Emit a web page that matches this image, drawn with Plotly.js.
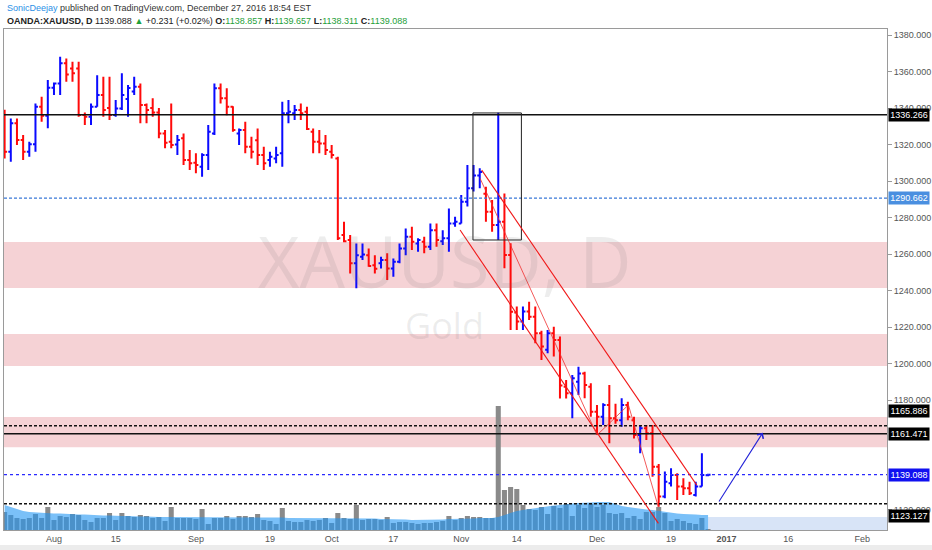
<!DOCTYPE html>
<html>
<head>
<meta charset="utf-8">
<script src="https://cdn.plot.ly/plotly-3.0.1.min.js"></script>
<style>
html,body{margin:0;padding:0;background:#fff;}
#chart{width:932px;height:550px;}
</style>
</head>
<body>
<div id="chart"></div>
<script>
// ---- Data ----
var dates = [
'2016-07-20','2016-07-21','2016-07-22','2016-07-25','2016-07-26','2016-07-27','2016-07-28','2016-07-29',
'2016-08-01','2016-08-02','2016-08-03','2016-08-04','2016-08-05','2016-08-08','2016-08-09','2016-08-10','2016-08-11','2016-08-12',
'2016-08-15','2016-08-16','2016-08-17','2016-08-18','2016-08-19','2016-08-22','2016-08-23','2016-08-24','2016-08-25','2016-08-26',
'2016-08-29','2016-08-30','2016-08-31',
'2016-09-01','2016-09-02','2016-09-05','2016-09-06','2016-09-07','2016-09-08','2016-09-09','2016-09-12','2016-09-13','2016-09-14',
'2016-09-15','2016-09-16','2016-09-19','2016-09-20','2016-09-21','2016-09-22','2016-09-23','2016-09-26','2016-09-27','2016-09-28',
'2016-09-29','2016-09-30',
'2016-10-03','2016-10-04','2016-10-05','2016-10-06','2016-10-07','2016-10-10','2016-10-11','2016-10-12','2016-10-13','2016-10-14',
'2016-10-17','2016-10-18','2016-10-19','2016-10-20','2016-10-21','2016-10-24','2016-10-25','2016-10-26','2016-10-27','2016-10-28',
'2016-10-31',
'2016-11-01','2016-11-02','2016-11-03','2016-11-04','2016-11-07','2016-11-08','2016-11-09','2016-11-10','2016-11-11','2016-11-14',
'2016-11-15','2016-11-16','2016-11-17','2016-11-18','2016-11-21','2016-11-22','2016-11-23','2016-11-24','2016-11-25','2016-11-28',
'2016-11-29','2016-11-30',
'2016-12-01','2016-12-02','2016-12-05','2016-12-06','2016-12-07','2016-12-08','2016-12-09','2016-12-12','2016-12-13','2016-12-14',
'2016-12-15','2016-12-16','2016-12-19','2016-12-20','2016-12-21','2016-12-22','2016-12-23','2016-12-27','2016-12-28'
];

var openP = [
1338,1316,1331.6,1322.5,1316.1,1320.1,1340.7,1335.8,1351.1,1353.5,
1364.5,1361.7,1361.7,1336.2,1335.2,1340.7,1347.1,1340,1336.2,1339.8,
1345,1349,1351.7,1341.6,1340,1337.5,1326,1321.5,1320,1323.4,
1311.5,1310,1307.8,1314.2,1326,1350.8,1345.3,1340.7,1326,1328,
1318.8,1322.4,1314.2,1311.5,1312.4,1315.2,1337.1,1337.1,1338.9,1338,
1327,1321.5,1320.6,1316.1,1312.4,1270.5,1267.7,1254.9,1258.5,1259.4,
1253.9,1254.9,1256.7,1252.1,1255.8,1263.1,1269.5,1265.8,1266.8,1264,
1273.1,1267,1268.6,1276.8,1276.8,1288.7,1296,1303,1293,1283.2,
1275.9,1277.7,1259.5,1228,1223,1228.5,1225.7,1216.6,1207.5,1216.6,
1212.9,1187.3,1183.7,1190,1194.6,1187.3,1173.6,1170.9,1177.3,1170,
1169,1177.3,1169,1160.9,1164.5,1161.8,1143.5,1127.1,1134.4,1138.9,
1132.6,1131.7,1128,1132.6,1138.857
];
var highP = [
1339,1334.3,1334.3,1325.2,1321.5,1342.5,1346.2,1355.3,1354,1368.1,
1367.2,1365.4,1365.4,1337.5,1342.5,1358,1357.2,1357.2,1344.4,1359,
1352.6,1357.2,1353.5,1342.5,1345.3,1340,1328,1342.5,1325.2,1326,
1317,1315.2,1315.2,1330.7,1353.5,1353.5,1350.8,1341,1328.8,1332.5,
1324.3,1328.8,1318.8,1316.1,1318.8,1343.5,1344.4,1341.6,1342.5,1340.7,
1328.8,1327.9,1325.2,1319.7,1313.3,1277.7,1270.4,1265.8,1265.8,1263.1,
1259.4,1258.5,1260.4,1257.6,1265.8,1274,1275,1268.6,1269.5,1276.8,
1276.8,1273.1,1285,1280.4,1292.4,1308.8,1308.8,1307,1296.9,1289.6,
1337.4,1293.2,1265.9,1231.2,1231.2,1233.9,1231.2,1218,1218.4,1220.2,
1214.8,1191,1193.7,1198.3,1195.5,1189.2,1177.3,1178.2,1188.2,1178,
1181,1179.1,1170.9,1166.3,1166.3,1166.3,1145,1140.8,1142.6,1139.9,
1137.1,1135.3,1135.3,1150.8,1139.657
];
var lowP = [
1312.4,1310.6,1319.7,1311.5,1313.3,1316.1,1332.5,1328.9,1347.1,1347.1,
1354.4,1354.4,1335.2,1330.7,1330.7,1340.7,1335.2,1333.4,1335.2,1338.9,
1335.2,1347.1,1331.6,1331.6,1335.2,1323.5,1318,1318,1314.2,1308.8,
1306,1304.2,1302.4,1306,1325.2,1342.5,1336.1,1327,1319.7,1315.2,
1312.4,1308.8,1306,1307.8,1309.7,1307.8,1331.6,1333.4,1333.4,1327.9,
1315.2,1315.2,1314.2,1312.4,1267.7,1266.5,1249.4,1241.2,1256.7,1253,
1249.4,1252.1,1245.8,1247.6,1254.9,1259.4,1262.2,1261.3,1260.4,1262.2,
1264,1264.9,1261.3,1274.9,1276.8,1286,1294.2,1296,1277.7,1272.2,
1267.7,1252.2,1218.4,1218.4,1218.4,1223.9,1211.1,1202,1205.6,1203.8,
1180.9,1180.9,1170,1182.8,1181,1170.9,1160.9,1166.3,1156.3,1167,
1165.4,1169,1159,1150.8,1158.1,1138,1121.6,1126.2,1132.6,1125.3,
1128,1128,1127.1,1132.6,1138.311
];
var closeP = [
1316.1,1331.6,1322.5,1316.1,1320.1,1340.7,1335.8,1351.1,1353.5,1364.5,
1358.4,1359,1336.2,1335.2,1340.7,1347.1,1338.9,1336.2,1339.8,1347.1,
1351,1351.7,1341.6,1338.9,1337.5,1326,1321,1319.7,1322.5,1311.5,
1309.7,1308.8,1314.2,1327,1350.8,1345.3,1340.7,1328,1328,1318.8,
1316.1,1314.2,1309.7,1313.3,1314.2,1337.1,1338,1338.9,1337.1,1328.5,
1321.5,1320.6,1317,1314.2,1268.6,1267,1254.9,1259.4,1259.8,1253.5,
1252,1256.7,1252.1,1255.8,1263.1,1269.5,1266.8,1267.7,1264,1273.1,
1267.7,1268.6,1276.8,1277.7,1288.7,1296,1303,1305,1283.2,1275.9,
1277.7,1259.5,1228.4,1223,1228.5,1225.7,1216.6,1209.3,1216.6,1212.9,
1188,1183.7,1191.9,1194.6,1188.2,1173.6,1170.9,1177.3,1170,1169,
1177.3,1170.9,1160.9,1164.5,1161.8,1143.5,1127.1,1135.3,1138.9,1132.6,
1131.7,1128.9,1132.6,1138.9,1139.088
];
var volume = [
18,15,12,11,12,16,12,23,10,14,
13,16,15,10,8,12,12,17,10,17,
14,13,15,14,12,13,9,23,12,12,
12,11,21,6,12,12,14,11,14,14,
13,16,10,9,6,22,9,8,8,10,
9,10,12,7,17,12,11,25,10,11,
11,10,13,7,8,8,7,6,7,7,
8,9,14,10,12,14,13,13,12,12,
124,40,43,41,25,21,20,23,16,24,
22,26,14,25,22,26,23,25,17,16,
17,12,14,11,18,18,23,17,9,11,
9,7,6,12,1
];
var volumeMA = [
25,23,21,19,18,17.5,17,17,16.5,16.5,
16,16,15.5,15.5,15,15,14.5,14.5,14,14,
14,13.5,13.5,13.5,13,13,13,13,13,13,
13,13,13,13,13,13,13,13,12.5,12.5,
12.5,12.5,12.5,12.5,12.5,12.5,12,12,12,12,
12,12,12,12,12,12,12,12,12,11.5,
11.5,11,11,10.5,10.5,10.5,10,10,10,10,
10.5,10.5,11,11,11,11.5,11.5,12,12,12,
13,15,17,19,20,21,22,23,24,24.5,
25,26,26.5,27,27,27.5,28,28,28,26,
24,23,22,21,20.5,20,19,18.5,17,16.5,
16,16,15.5,15,15
];

var xTickVals = ['2016-08-01','2016-08-15','2016-09-01','2016-09-19','2016-10-03','2016-10-17','2016-11-01','2016-11-14','2016-12-01','2016-12-19','2017-01-02','2017-01-16','2017-02-01'];
var xTickText = ['Aug','15','Sep','19','Oct','17','Nov','14','Dec','19','<b>2017</b>','16','Feb'];
// price-axis ticks visible in the reference (1140 and 1160 are hidden behind price labels there)
var yTickVals = [1120,1180,1200,1220,1240,1260,1280,1300,1320,1340,1360,1380];

// horizontal levels and zones drawn on the chart
var levelPrices = [1336.266, 1290.662, 1165.886, 1161.471, 1139.088, 1123.127];
var levelColors = ['#111111', '#3a78d8', '#111111', '#111111', '#2a2aff', '#111111'];
var levelDash   = ['solid', '3px,2px', '3px,2px', 'solid', 'dot', '3px,2px'];
var labelBg     = ['#000000', '#4a8fe0', '#000000', '#000000', '#1010f0', '#000000'];
var labelShift  = [0, 0, 15, 0, 0, -12];
var zones = [[1241.4, 1266.6], [1198.6, 1216.2], [1154.2, 1170.7]];

// drawing anchors (date, price)
var boxAnchor = [['2016-11-02 21:36', 1267.7], ['2016-11-14 18:00', 1337.3]];
var channelUpper = [['2016-11-04 07:40', 1306.0], ['2016-12-23 04:05', 1133.4]];
var channelLower = [['2016-10-31 19:26', 1273.2], ['2016-12-14 22:48', 1112.4]];
var waveLine = [['2016-11-04 01:12', 1301.5], ['2016-12-01 00:00', 1160.8], ['2016-12-08 02:10', 1177.3], ['2016-12-14 22:48', 1121.4]];
var arrowTail = ['2016-12-29 14:53', 1123.6];
var arrowTip = ['2017-01-09 20:53', 1162.1];

// ---- Build ----
var FONT = 'Liberation Sans, Arial, sans-serif';

var traces = [
  {
    type: 'bar', x: dates, y: volume, yaxis: 'y2',
    marker: {color: '#8a8a8a', line: {width: 0}},
    hoverinfo: 'skip', showlegend: false
  },
  {
    type: 'scatter', mode: 'lines', x: dates, y: volumeMA, yaxis: 'y2',
    fill: 'tozeroy', fillcolor: 'rgba(33,150,243,0.6)',
    line: {width: 0, color: 'rgba(33,150,243,0.6)'},
    hoverinfo: 'skip', showlegend: false
  },
  {
    type: 'ohlc', x: dates, open: openP, high: highP, low: lowP, close: closeP,
    increasing: {line: {color: '#0a0aff', width: 2}},
    decreasing: {line: {color: '#ff0a0a', width: 2}},
    tickwidth: 0.4, hoverinfo: 'skip', showlegend: false
  }
];

var shapes = [];
zones.forEach(function (z) {
  shapes.push({type: 'rect', xref: 'paper', x0: 0, x1: 1, yref: 'y', y0: z[0], y1: z[1],
    fillcolor: '#f5d2d5', line: {width: 0}, layer: 'below'});
});
// light blue zone at bottom right
shapes.push({type: 'rect', xref: 'x', x0: '2016-12-28', x1: '2017-03-31', yref: 'y', y0: 1100, y1: 1115.9,
  fillcolor: '#d8e4f7', line: {width: 0}, layer: 'below'});
levelPrices.forEach(function (p, i) {
  shapes.push({type: 'line', xref: 'paper', x0: 0, x1: 1, yref: 'y', y0: p, y1: p,
    line: {color: levelColors[i], width: (levelColors[i] === '#111111' ? 1.5 : 1.3), dash: levelDash[i]}});
});
shapes.push({type: 'rect', xref: 'x', yref: 'y', x0: boxAnchor[0][0], y0: boxAnchor[0][1], x1: boxAnchor[1][0], y1: boxAnchor[1][1],
  line: {color: '#222', width: 1}, fillcolor: 'rgba(0,0,0,0)'});
[channelUpper, channelLower].forEach(function (c) {
  shapes.push({type: 'line', xref: 'x', yref: 'y', x0: c[0][0], y0: c[0][1], x1: c[1][0], y1: c[1][1],
    line: {color: '#f01818', width: 1.1}});
});
for (var k = 0; k < waveLine.length - 1; k++) {
  shapes.push({type: 'line', xref: 'x', yref: 'y', x0: waveLine[k][0], y0: waveLine[k][1], x1: waveLine[k + 1][0], y1: waveLine[k + 1][1],
    line: {color: '#f03030', width: 0.8}});
}
// bottom gray strip
shapes.push({type: 'rect', xref: 'paper', yref: 'paper', x0: -0.01, x1: 1.06, y0: -0.045, y1: -0.03,
  fillcolor: '#ececec', line: {width: 0}});

var annotations = [
  {xref: 'paper', yref: 'paper', x: 0, y: 1, xanchor: 'left', yanchor: 'middle', xshift: 1, yshift: 21,
   showarrow: false, font: {family: FONT, size: 9, color: '#333'},
   text: '<span style="color:#2b8fe6">SonicDeejay</span> published on TradingView.com, December 27, 2016 18:54 EST'},
  {xref: 'paper', yref: 'paper', x: 0, y: 1, xanchor: 'left', yanchor: 'middle', xshift: 1, yshift: 8,
   showarrow: false, font: {family: FONT, size: 9, color: '#222'},
   text: '<b>OANDA:XAUUSD, D</b> 1139.088 <span style="color:#1fa03a">▲</span> +0.231 (+0.02%) <b>O:</b><span style="color:#1fa03a">1138.857</span> <b>H:</b><span style="color:#1fa03a">1139.657</span> <b>L:</b><span style="color:#1fa03a">1138.311</span> <b>C:</b><span style="color:#1fa03a">1139.088</span>'},
  {xref: 'paper', yref: 'y', x: 0.4994, y: 1257, xanchor: 'center', yanchor: 'middle', showarrow: false,
   text: 'XAUUSD, D', font: {family: 'Open Sans, sans-serif', size: 72, color: 'rgba(110,110,110,0.12)'}},
  {xref: 'paper', yref: 'y', x: 0.4994, y: 1221, xanchor: 'center', yanchor: 'middle', showarrow: false,
   text: 'Gold', font: {family: 'Open Sans, sans-serif', size: 36, color: 'rgba(110,110,110,0.12)'}},
  {xref: 'x', yref: 'y', axref: 'x', ayref: 'y', x: arrowTip[0], y: arrowTip[1], ax: arrowTail[0], ay: arrowTail[1],
   showarrow: true, arrowhead: 4, arrowsize: 1.3, arrowwidth: 1.1, arrowcolor: '#2424d8', text: ''}
];
levelPrices.forEach(function (p, i) {
  annotations.push({xref: 'paper', yref: 'y', x: 1, y: p, xanchor: 'left', yanchor: 'middle', xshift: 1, yshift: labelShift[i],
    showarrow: false, text: p.toFixed(3), bgcolor: labelBg[i], borderpad: 1, width: 38,
    font: {family: FONT, size: 9, color: '#ffffff'}});
});

var layout = {
  width: 932, height: 550,
  margin: {l: 4, r: 45, t: 29, b: 20, pad: 0},
  paper_bgcolor: '#ffffff', plot_bgcolor: '#ffffff',
  showlegend: false, bargap: 0.18, hovermode: false,
  xaxis: {
    type: 'date',
    rangebreaks: [{bounds: ['sat', 'mon']}, {values: ['2016-12-26']}],
    range: ['2016-07-19 21:36', '2017-02-07 00:00'],
    rangeslider: {visible: false},
    tickmode: 'array', tickvals: xTickVals, ticktext: xTickText,
    showgrid: false, zeroline: false, ticks: '',
    showline: true, linecolor: '#9a9a9a', linewidth: 1, mirror: true,
    tickfont: {family: FONT, size: 9, color: '#555'}
  },
  yaxis: {
    side: 'right', range: [1108.8, 1383.3], fixedrange: true,
    tickmode: 'array', tickvals: yTickVals, tickformat: '.3f',
    showgrid: false, zeroline: false,
    ticks: 'outside', ticklen: 4, tickcolor: '#9a9a9a',
    showline: true, linecolor: '#9a9a9a', linewidth: 1, mirror: true,
    tickfont: {family: FONT, size: 9, color: '#555'}
  },
  yaxis2: {overlaying: 'y', range: [0, 501], visible: false, fixedrange: true},
  shapes: shapes,
  annotations: annotations,
  font: {family: FONT}
};

Plotly.newPlot('chart', traces, layout, {displayModeBar: false, staticPlot: true});
</script>
</body>
</html>
